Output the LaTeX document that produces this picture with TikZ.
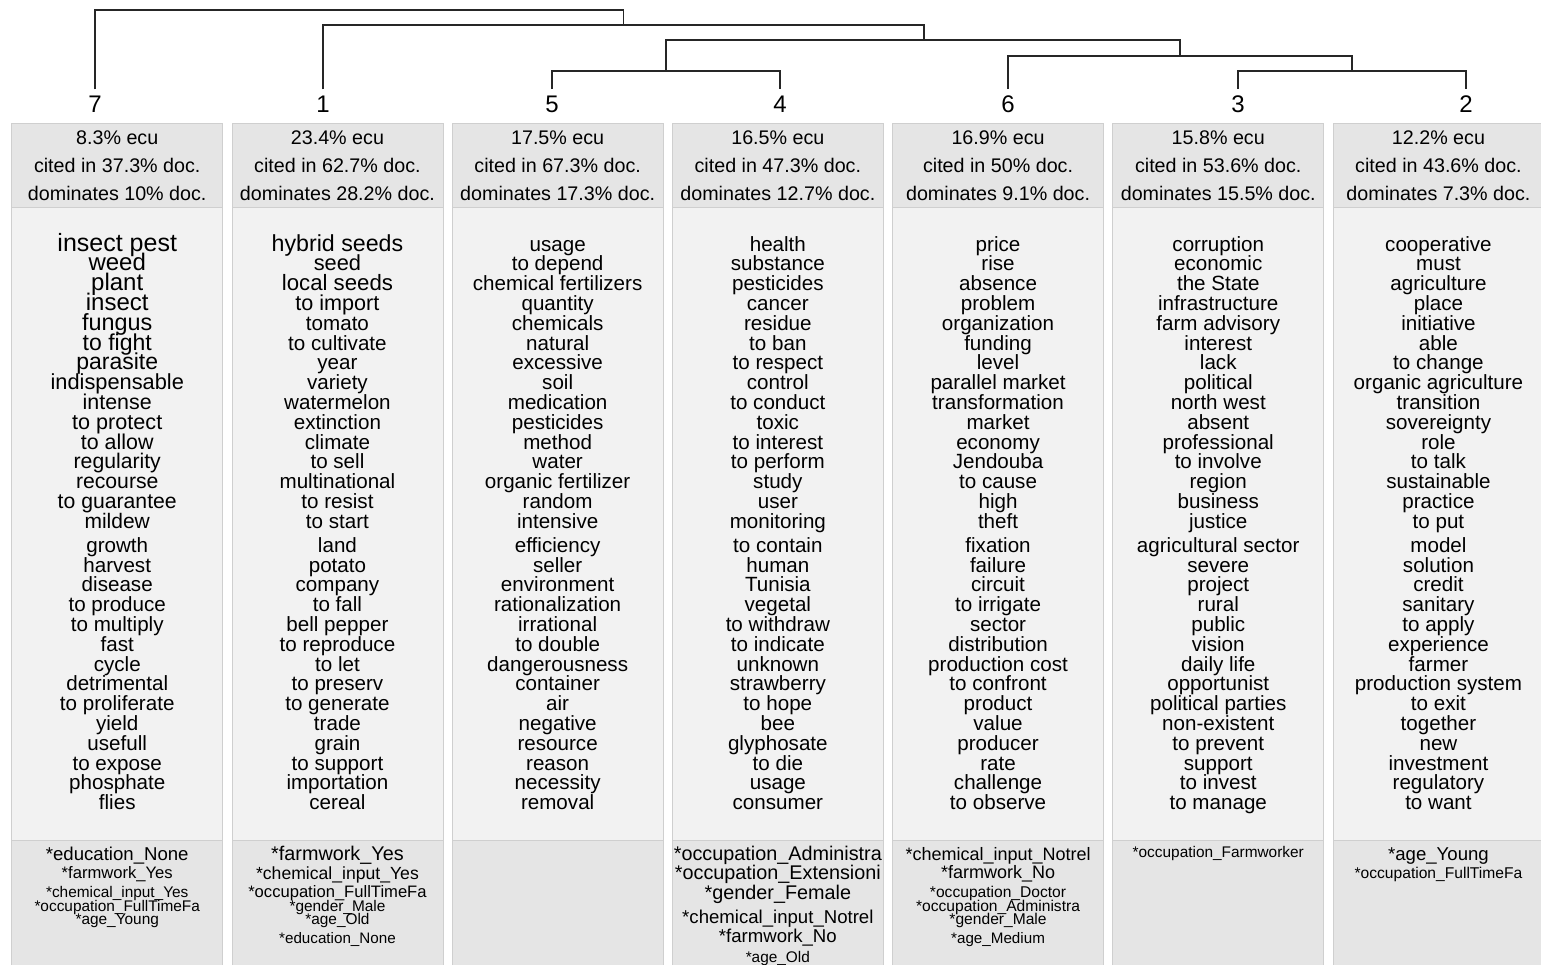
\documentclass[tikz,border=0pt]{standalone}
\usepackage{fontspec}
\setmainfont{Liberation Sans}
\usetikzlibrary{positioning}
\setlength{\lineskiplimit}{-50pt}
\newcommand{\wsize}[1]{\fontsize{#1}{0}\selectfont}
\tikzstyle{headbox} = [rectangle,
anchor=north,
minimum width=105.5pt,
inner sep=0pt, outer sep=0pt,
text height=38.5pt, text depth=3.5pt,
align=center,
draw=gray!38,
fill=gray!20,
font=\fontsize{9.85}{14}\selectfont]
\tikzstyle{wordbox} = [rectangle,
minimum width=105.5pt,
inner sep=0pt, outer sep=0pt,
text height=301.3pt, text depth=15.2pt,
align=center,
draw=gray!38,
fill=gray!10,
font=\fontsize{10.3}{9.9}\selectfont]
\tikzstyle{featbox} = [rectangle,
minimum width=105.5pt,
inner sep=0pt, outer sep=0pt,
text height=10pt, text depth=55pt,
align=center,
draw=gray!38,
fill=gray!20,
font=\fontsize{9}{0}\selectfont]
\tikzstyle{leaf} = [inner sep=3pt, font=\fontsize{12}{14}\selectfont]
\tikzstyle{link} = [line width=0.8pt, black!85]

\begin{document}
\begin{tikzpicture}[x=0.5pt, y=-0.5pt]
    \useasboundingbox (0,0) rectangle (1541,964);

    % cluster numbers
    \node (n7) [leaf] at (95,104) {7};
    \node (n1) [leaf] at (323,104) {1};
    \node (n5) [leaf] at (552,104) {5};
    \node (n4) [leaf] at (780,104) {4};
    \node (n6) [leaf] at (1008,104) {6};
    \node (n3) [leaf] at (1238,104) {3};
    \node (n2) [leaf] at (1466,104) {2};

    % tree
    \coordinate (c54) at (666,71);
    \coordinate (c32) at (1352,71);
    \coordinate (c632) at (1180,56);
    \coordinate (c54632) at (924,40);
    \coordinate (c1) at (623.5,25);
    \coordinate (c7) at (359,10);
    \draw [link] (n5.north) |- (c54) -| (n4.north);
    \draw [link] (n3.north) |- (c32) -| (n2.north);
    \draw [link] (n6.north) |- (c632) -| (c32);
    \draw [link] (c54) |- (c54632) -| (c632);
    \draw [link] (n1.north) |- (c1) -| (c54632);
    \draw [link] (n7.north) |- (c7) -| (c1);

    % headers
    \node (head7) [headbox] at (117.25,123) {8.3\% ecu\\cited in 37.3\% doc.\\dominates 10\% doc.};
    \node (head1) [headbox, right=4.6pt of head7] {23.4\% ecu\\cited in 62.7\% doc.\\dominates 28.2\% doc.};
    \node (head5) [headbox, right=4.6pt of head1] {17.5\% ecu\\cited in 67.3\% doc.\\dominates 17.3\% doc.};
    \node (head4) [headbox, right=4.6pt of head5] {16.5\% ecu\\cited in 47.3\% doc.\\dominates 12.7\% doc.};
    \node (head6) [headbox, right=4.6pt of head4] {16.9\% ecu\\cited in 50\% doc.\\dominates 9.1\% doc.};
    \node (head3) [headbox, right=4.6pt of head6] {15.8\% ecu\\cited in 53.6\% doc.\\dominates 15.5\% doc.};
    \node (head2) [headbox, right=4.6pt of head3] {12.2\% ecu\\cited in 43.6\% doc.\\dominates 7.3\% doc.};

    % word lists
    \node (body7) [wordbox, below=0pt of head7] {{\wsize{12.5}insect pest}\\{\wsize{12}weed}\\{\wsize{12}plant}\\{\wsize{12}insect}\\
        {\wsize{11.7}fungus}\\{\wsize{11.5}to fight}\\{\wsize{11.5}parasite}\\{\wsize{10.9}indispensable}\\
        {\wsize{10.7}intense}\\{\wsize{10.8}to protect}\\{\wsize{10.7}to allow}\\{\wsize{10.6}regularity}\\
        {\wsize{10.6}recourse}\\{\wsize{10.6}to guarantee}\\{\wsize{10.5}mildew}\\[2.1pt]
        growth\\harvest\\disease\\to produce\\to multiply\\fast\\cycle\\detrimental\\to proliferate\\
        yield\\usefull\\to expose\\phosphate\\flies};
    \node (body1) [wordbox, below=0pt of head1] {{\wsize{11.6}hybrid seeds}\\{\wsize{10.9}seed}\\{\wsize{11.1}local seeds}\\{\wsize{10.8}to import}\\
        tomato\\to cultivate\\year\\variety\\watermelon\\extinction\\climate\\to sell\\multinational\\to resist\\to start\\[2.1pt]
        land\\potato\\company\\to fall\\bell pepper\\to reproduce\\to let\\to preserv\\to generate\\
        trade\\grain\\to support\\importation\\cereal};
    \node (body5) [wordbox, below=0pt of head5] {usage\\to depend\\chemical fertilizers\\quantity\\chemicals\\natural\\excessive\\soil\\
        medication\\pesticides\\method\\water\\organic fertilizer\\random\\intensive\\[2.1pt]
        efficiency\\seller\\environment\\rationalization\\irrational\\to double\\dangerousness\\
        container\\air\\negative\\resource\\reason\\necessity\\removal};
    \node (body4) [wordbox, below=0pt of head4] {health\\substance\\pesticides\\cancer\\residue\\to ban\\to respect\\control\\
        to conduct\\toxic\\to interest\\to perform\\study\\user\\monitoring\\[2.1pt]
        to contain\\human\\Tunisia\\vegetal\\to withdraw\\to indicate\\unknown\\strawberry\\
        to hope\\bee\\glyphosate\\to die\\usage\\consumer};
    \node (body6) [wordbox, below=0pt of head6] {price\\rise\\absence\\problem\\organization\\funding\\level\\parallel market\\
        transformation\\market\\economy\\Jendouba\\to cause\\high\\theft\\[2.1pt]
        fixation\\failure\\circuit\\to irrigate\\sector\\distribution\\production cost\\to confront\\
        product\\value\\producer\\rate\\challenge\\to observe};
    \node (body3) [wordbox, below=0pt of head3] {corruption\\economic\\the State\\infrastructure\\farm advisory\\interest\\lack\\
        political\\north west\\absent\\professional\\to involve\\region\\business\\justice\\[2.1pt]
        agricultural sector\\severe\\project\\rural\\public\\vision\\daily life\\opportunist\\
        political parties\\non-existent\\to prevent\\support\\to invest\\to manage};
    \node (body2) [wordbox, below=0pt of head2] {cooperative\\must\\agriculture\\place\\initiative\\able\\to change\\
        organic agriculture\\transition\\sovereignty\\role\\to talk\\sustainable\\practice\\to put\\[2.1pt]
        model\\solution\\credit\\sanitary\\to apply\\experience\\farmer\\production system\\
        to exit\\together\\new\\investment\\regulatory\\to want};

    % characteristic modalities
    \node (foot7) [featbox, below=0pt of body7, text height=42pt, text depth=23pt] {{\wsize{9.3}*education\_None}\\[9pt]{\wsize{8.3}*farmwork\_Yes}\\[9.5pt]
        {\wsize{7.7}*chemical\_input\_Yes}\\[7pt]{\wsize{7.7}*occupation\_FullTimeFa}\\[6.5pt]{\wsize{7.7}*age\_Young}};
    \node (foot1) [featbox, below=0pt of body1, text height=51.5pt, text depth=13.5pt] {{\wsize{9.9}*farmwork\_Yes}\\[9.5pt]{\wsize{8.8}*chemical\_input\_Yes}\\[9pt]
        {\wsize{8.3}*occupation\_FullTimeFa}\\[7pt]{\wsize{7.7}*gender\_Male}\\[6.5pt]{\wsize{7.7}*age\_Old}\\[9.5pt]
        {\wsize{7.6}*education\_None}};
    \node (foot5) [featbox, below=0pt of body5] {};
    \node (foot4) [featbox, below=0pt of body4, text height=61pt, text depth=4pt] {{\wsize{9.9}*occupation\_Administra}\\[9.5pt]{\wsize{9.9}*occupation\_Extensioni}\\[10pt]
        {\wsize{9.9}*gender\_Female}\\[12pt]{\wsize{9.3}*chemical\_input\_Notrel}\\[9.5pt]{\wsize{9.3}*farmwork\_No}\\[10pt]
        {\wsize{7.7}*age\_Old}};
    \node (foot6) [featbox, below=0pt of body6, text height=51.5pt, text depth=13.5pt] {{\wsize{9}*chemical\_input\_Notrel}\\[9pt]{\wsize{9}*farmwork\_No}\\[9.5pt]
        {\wsize{7.8}*occupation\_Doctor}\\[7pt]{\wsize{7.8}*occupation\_Administra}\\[6.5pt]{\wsize{7.8}*gender\_Male}\\[9.5pt]
        {\wsize{7.6}*age\_Medium}};
    \node (foot3) [featbox, below=0pt of body3, text height=8.8pt, text depth=56.2pt] {{\wsize{7.7}*occupation\_Farmworker}};
    \node (foot2) [featbox, below=0pt of body2, text height=19pt, text depth=46pt] {{\wsize{9.3}*age\_Young}\\[9pt]{\wsize{7.8}*occupation\_FullTimeFa}};
\end{tikzpicture}
\end{document}
